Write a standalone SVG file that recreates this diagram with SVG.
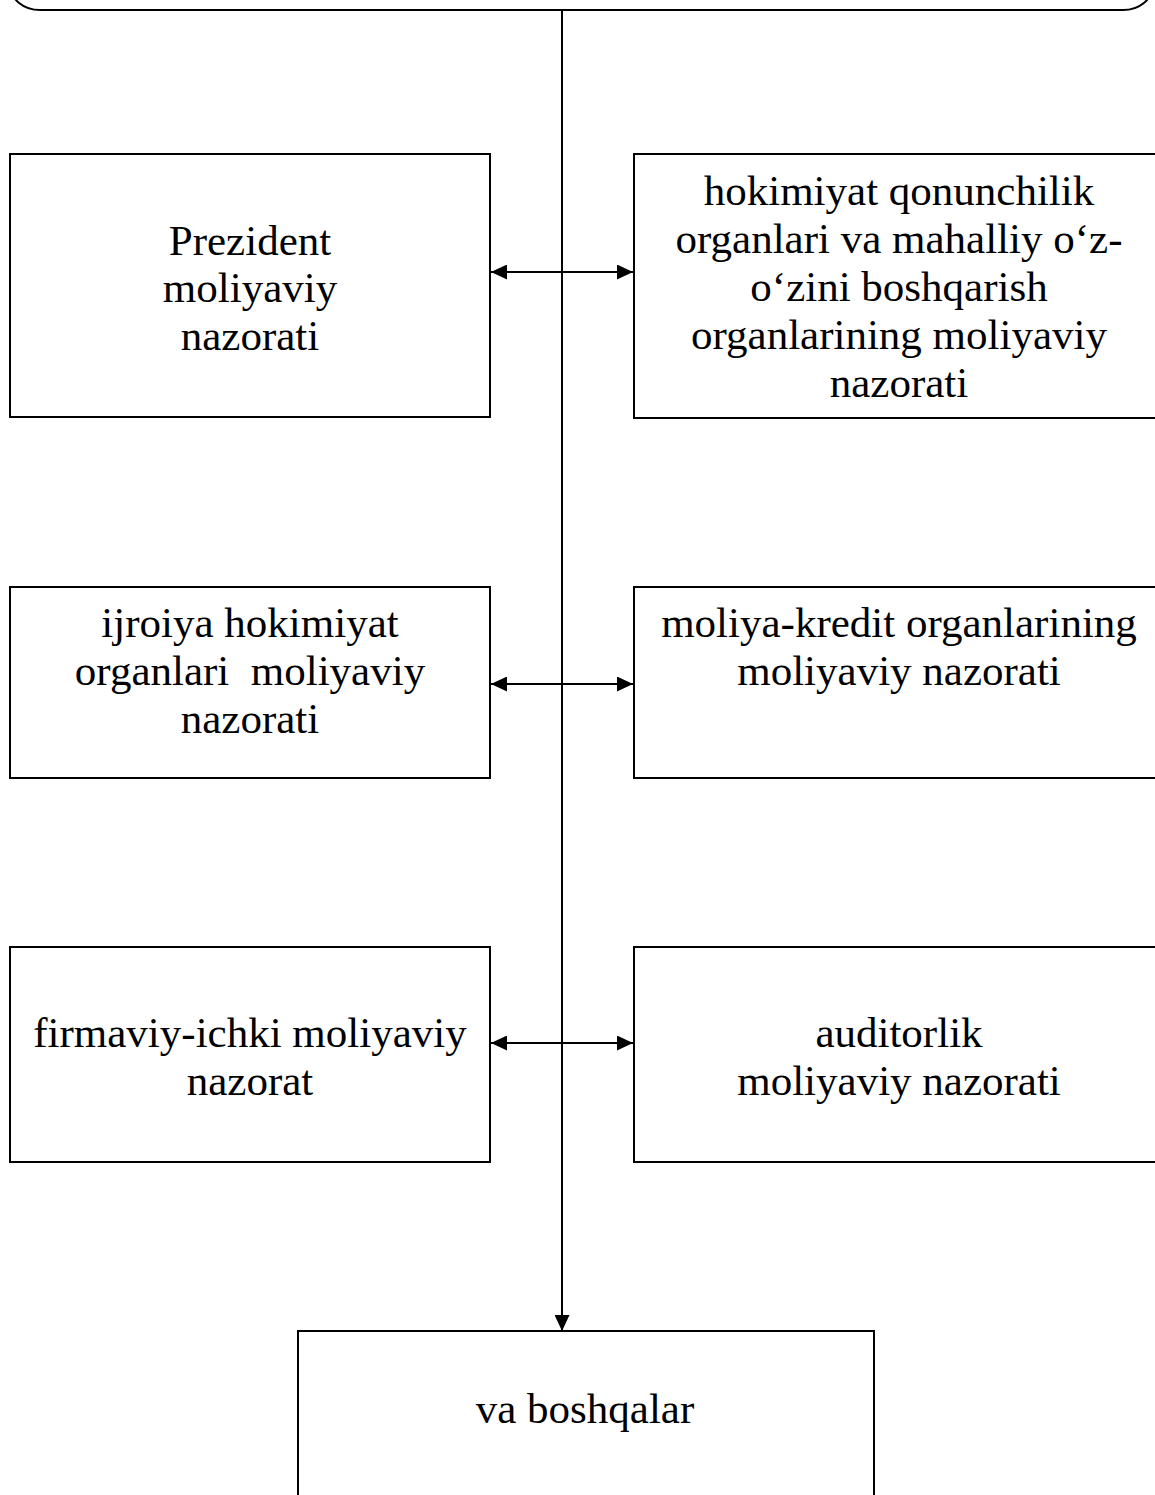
<svg xmlns="http://www.w3.org/2000/svg" width="1155" height="1495" viewBox="0 0 1155 1495">
<style>
.box{fill:#fff;stroke:#000;stroke-width:2}
.ln{fill:none;stroke:#000;stroke-width:2}
text{font-family:"Liberation Serif","Times New Roman",serif;font-size:43px;fill:#000;text-anchor:middle;white-space:pre}
</style>
<defs>
<marker id="ah" viewBox="0 0 16 15" refX="16" refY="7.5" markerWidth="16" markerHeight="15" markerUnits="userSpaceOnUse" orient="auto-start-reverse">
<path d="M0,0 L16,7.5 L0,15 Z" fill="#000"/>
</marker>
</defs>
<g id="top"><rect class="box" x="10" y="-40" width="1143" height="50" rx="30" ry="30"/></g>
<g id="connectors">
<line class="ln" x1="562" y1="10" x2="562" y2="1331" marker-end="url(#ah)"/>
<line class="ln" x1="491" y1="272" x2="633" y2="272" marker-start="url(#ah)" marker-end="url(#ah)"/>
<line class="ln" x1="491" y1="684" x2="633" y2="684" marker-start="url(#ah)" marker-end="url(#ah)"/>
<line class="ln" x1="491" y1="1043" x2="633" y2="1043" marker-start="url(#ah)" marker-end="url(#ah)"/>
</g>
<g id="n1"><rect class="box" x="10" y="154" width="480" height="263"/>
<text x="250" y="255">Prezident</text><text x="250" y="302">moliyaviy</text><text x="250" y="350">nazorati</text></g>
<g id="n2"><rect class="box" x="634" y="154" width="530" height="264"/>
<text x="899" y="205">hokimiyat qonunchilik</text><text x="899" y="253">organlari va mahalliy o‘z-</text><text x="899" y="301">o‘zini boshqarish</text><text x="899" y="349">organlarining moliyaviy</text><text x="899" y="397">nazorati</text></g>
<g id="n3"><rect class="box" x="10" y="587" width="480" height="191"/>
<text x="250" y="637">ijroiya hokimiyat</text><text x="250" y="685" xml:space="preserve">organlari  moliyaviy</text><text x="250" y="733">nazorati</text></g>
<g id="n4"><rect class="box" x="634" y="587" width="530" height="191"/>
<text x="899" y="637">moliya-kredit organlarining</text><text x="899" y="685">moliyaviy nazorati</text></g>
<g id="n5"><rect class="box" x="10" y="947" width="480" height="215"/>
<text x="250" y="1047">firmaviy-ichki moliyaviy</text><text x="250" y="1095">nazorat</text></g>
<g id="n6"><rect class="box" x="634" y="947" width="530" height="215"/>
<text x="899" y="1047">auditorlik</text><text x="899" y="1095">moliyaviy nazorati</text></g>
<g id="n7"><rect class="box" x="298" y="1331" width="576" height="200"/>
<text x="585" y="1423">va boshqalar</text></g>
</svg>
